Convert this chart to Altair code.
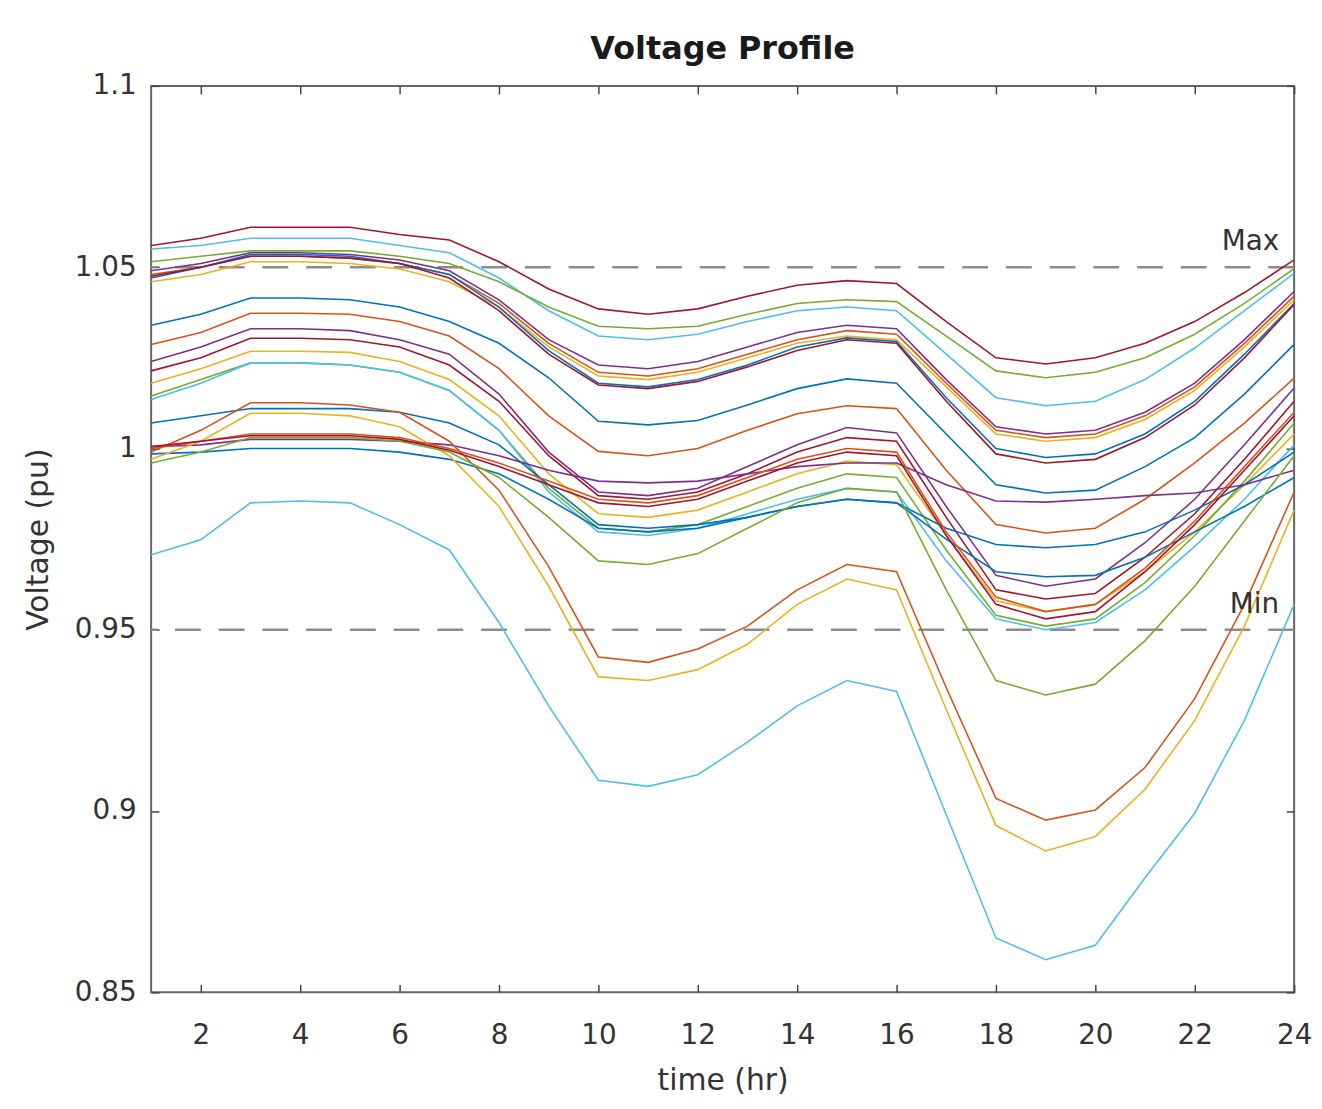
import altair as alt
import pandas as pd

hours = [1, 2, 3, 4, 5, 6, 7, 8, 9, 10, 11, 12, 13, 14, 15, 16, 17, 18, 19, 20, 21, 22, 23, 24]
xticks = [2, 4, 6, 8, 10, 12, 14, 16, 18, 20, 22, 24]
yticks = [0.85, 0.9, 0.95, 1.0, 1.05, 1.1]
limit_values = [1.05, 0.95]
limit_labels = ["Max", "Min"]

v01 = [1.056,1.058,1.061,1.061,1.061,1.059,1.0575,1.0515,1.044,1.0385,1.037,1.0385,1.042,1.045,1.0463,1.0455,1.035,1.025,1.0233,1.025,1.029,1.035,1.043,1.052]
v02 = [1.055,1.056,1.058,1.058,1.058,1.056,1.054,1.047,1.038,1.031,1.030,1.0315,1.035,1.038,1.039,1.038,1.026,1.014,1.0118,1.013,1.019,1.0277,1.038,1.0483]
v03 = [1.0515,1.053,1.0545,1.0545,1.0545,1.053,1.051,1.046,1.039,1.0337,1.033,1.0337,1.037,1.040,1.041,1.0405,1.031,1.0214,1.0195,1.021,1.025,1.0315,1.040,1.0496]
v04 = [1.049,1.051,1.054,1.054,1.0535,1.052,1.049,1.041,1.030,1.023,1.022,1.024,1.028,1.032,1.034,1.033,1.019,1.006,1.004,1.005,1.010,1.018,1.030,1.0433]
v05 = [1.048,1.050,1.053,1.053,1.0525,1.051,1.048,1.040,1.029,1.021,1.020,1.022,1.026,1.030,1.0325,1.0315,1.018,1.005,1.003,1.004,1.009,1.017,1.029,1.042]
v06 = [1.046,1.048,1.0515,1.0515,1.051,1.0495,1.046,1.039,1.028,1.020,1.019,1.021,1.025,1.029,1.031,1.030,1.017,1.004,1.002,1.003,1.008,1.016,1.028,1.041]
v07 = [1.047,1.050,1.0535,1.0535,1.053,1.051,1.048,1.039,1.027,1.018,1.017,1.019,1.023,1.028,1.0305,1.0295,1.014,1.000,0.9975,0.9985,1.004,1.013,1.026,1.040]
v08 = [1.0475,1.050,1.053,1.053,1.0525,1.051,1.047,1.038,1.026,1.0175,1.0165,1.0185,1.0225,1.027,1.030,1.029,1.013,0.9985,0.996,0.997,1.003,1.012,1.025,1.0397]
v09 = [1.034,1.037,1.0415,1.0415,1.041,1.039,1.035,1.029,1.0195,1.0075,1.0065,1.0077,1.012,1.0165,1.0192,1.018,1.004,0.990,0.9877,0.9885,0.995,1.003,1.015,1.0287]
v10 = [1.0287,1.032,1.0373,1.0373,1.037,1.035,1.031,1.022,1.009,0.9992,0.998,1.000,1.005,1.0096,1.0118,1.011,0.994,0.979,0.9767,0.978,0.986,0.996,1.007,1.0194]
v11 = [1.024,1.028,1.033,1.033,1.0325,1.030,1.026,1.015,0.999,0.988,0.987,0.989,0.995,1.001,1.0058,1.0043,0.984,0.965,0.962,0.964,0.974,0.986,1.001,1.0167]
v12 = [1.0214,1.025,1.0304,1.0304,1.030,1.028,1.023,1.013,0.998,0.987,0.986,0.988,0.993,0.999,1.003,1.002,0.981,0.961,0.9585,0.960,0.970,0.982,0.997,1.013]
v13 = [1.018,1.022,1.0268,1.0268,1.0265,1.024,1.019,1.009,0.993,0.982,0.981,0.983,0.988,0.993,0.9965,0.9955,0.976,0.958,0.955,0.957,0.966,0.977,0.990,1.004]
v14 = [1.0145,1.019,1.0236,1.0236,1.023,1.021,1.016,1.005,0.989,0.978,0.977,0.979,0.984,0.989,0.993,0.992,0.972,0.954,0.951,0.953,0.963,0.976,0.991,1.007]
v15 = [1.0135,1.018,1.0236,1.0236,1.023,1.021,1.016,1.005,0.988,0.977,0.976,0.978,0.982,0.986,0.989,0.988,0.969,0.953,0.950,0.952,0.961,0.973,0.986,1.001]
v16 = [1.007,1.009,1.011,1.011,1.011,1.010,1.007,1.001,0.990,0.979,0.978,0.979,0.981,0.984,0.986,0.985,0.978,0.9735,0.9726,0.9735,0.977,0.983,0.990,0.999]
v17 = [1.0005,1.001,1.0025,1.0025,1.0025,1.002,1.001,0.998,0.994,0.991,0.9905,0.991,0.993,0.995,0.996,0.996,0.990,0.9855,0.9852,0.986,0.987,0.9877,0.990,0.994]
v18 = [0.9985,0.999,1.000,1.000,1.000,0.999,0.997,0.993,0.986,0.978,0.977,0.978,0.981,0.984,0.986,0.985,0.975,0.966,0.9646,0.965,0.970,0.977,0.984,0.992]
v19 = [0.999,1.005,1.0126,1.0126,1.012,1.010,1.002,0.9885,0.9674,0.9425,0.941,0.9447,0.951,0.961,0.968,0.966,0.934,0.9035,0.8975,0.9003,0.912,0.931,0.957,0.988]
v20 = [0.997,1.002,1.0097,1.0097,1.009,1.006,0.998,0.984,0.962,0.937,0.936,0.939,0.946,0.957,0.964,0.961,0.928,0.896,0.889,0.893,0.906,0.925,0.951,0.983]
v21 = [0.996,0.999,1.003,1.003,1.003,1.002,0.999,0.992,0.981,0.969,0.968,0.971,0.978,0.985,0.989,0.988,0.961,0.936,0.932,0.935,0.947,0.962,0.980,0.998]
v22 = [1.000,1.002,1.004,1.004,1.004,1.003,1.000,0.996,0.991,0.986,0.985,0.987,0.992,0.997,1.000,0.999,0.977,0.959,0.955,0.957,0.967,0.980,0.995,1.010]
v23 = [1.0005,1.002,1.0035,1.0035,1.0035,1.0025,0.9995,0.995,0.990,0.985,0.984,0.986,0.991,0.996,0.999,0.998,0.976,0.957,0.953,0.955,0.966,0.979,0.994,1.009]
v24 = [0.9707,0.9748,0.985,0.9855,0.985,0.979,0.972,0.952,0.929,0.9085,0.9068,0.910,0.919,0.929,0.936,0.933,0.899,0.865,0.859,0.863,0.8816,0.8994,0.925,0.957]

series_values = [v01, v02, v03, v04, v05, v06, v07, v08, v09, v10, v11, v12,
                 v13, v14, v15, v16, v17, v18, v19, v20, v21, v22, v23, v24]
series_colors = ["#A2142F", "#4DBEEE", "#77AC30", "#7E2F8E", "#D95319", "#EDB120",
                 "#0072BD", "#A2142F", "#0072BD", "#D95319", "#7E2F8E", "#A2142F",
                 "#EDB120", "#77AC30", "#4DBEEE", "#0072BD", "#7E2F8E", "#0072BD",
                 "#D95319", "#EDB120", "#77AC30", "#D95319", "#A2142F", "#4DBEEE"]
series_names = [f"bus{i+1:02d}" for i in range(len(series_values))]

rows = []
for name, vals in zip(series_names, series_values):
    for h, v in zip(hours, vals):
        rows.append({"series": name, "hour": h, "v": v})
df = pd.DataFrame(rows)
limits = pd.DataFrame({"val": limit_values, "label": limit_labels})

xscale = alt.Scale(domain=[1, 24], nice=False, zero=False)
yscale = alt.Scale(domain=[0.85, 1.1], nice=False, zero=False)

TXT = "#333333"

x_bottom = alt.Axis(values=xticks, orient="bottom", offset=-8, tickSize=8, tickWidth=1.5,
                    tickColor="#444444", domain=False, grid=False, labelFontSize=28,
                    labelColor=TXT, labelPadding=29, labelFlush=False,
                    title="time (hr)", titleFontSize=30, titleFontWeight="normal",
                    titleColor=TXT, titlePadding=17)
y_left = alt.Axis(values=yticks, orient="left", offset=-8, tickSize=8, tickWidth=1.5,
                  tickColor="#444444", domain=False, grid=False, labelFontSize=28,
                  labelColor=TXT, labelPadding=15, labelExpr="format(datum.value, '~g')",
                  title="Voltage (pu)", titleFontSize=30, titleFontWeight="normal",
                  titleColor=TXT, titlePadding=21)
x_top = alt.Axis(values=xticks, orient="top", offset=-8, tickSize=8, tickWidth=1.5,
                 tickColor="#444444", domain=False, grid=False, labels=False, title="")
y_right = alt.Axis(values=yticks, orient="right", offset=-8, tickSize=8, tickWidth=1.5,
                   tickColor="#444444", domain=False, grid=False, labels=False, title="")

rules = alt.Chart(limits).mark_rule(color="#8c8c8c", strokeWidth=2.5, strokeDash=[26, 18]).encode(
    y=alt.Y("val:Q", scale=yscale, axis=None)
)

lines = alt.Chart(df).mark_line(strokeWidth=1.6).encode(
    x=alt.X("hour:Q", scale=xscale, axis=x_bottom),
    y=alt.Y("v:Q", scale=yscale, axis=y_left),
    color=alt.Color("series:N", scale=alt.Scale(domain=series_names, range=series_colors), legend=None),
    detail="series:N",
)

frame_axes = alt.Chart(df).mark_line(opacity=0).encode(
    x=alt.X("hour:Q", scale=xscale, axis=x_top),
    y=alt.Y("v:Q", scale=yscale, axis=y_right),
    detail="series:N",
)

labels = alt.Chart(limits).mark_text(align="right", baseline="alphabetic", dx=-15, dy=-17,
                                     fontSize=28, color=TXT).encode(
    x=alt.X(datum=24, scale=xscale, axis=None),
    y=alt.Y("val:Q", scale=yscale, axis=None),
    text="label:N",
)

chart = alt.layer(rules, lines, frame_axes, labels).resolve_axis(
    x="independent", y="independent"
).properties(
    width=1150,
    height=912,
    title=alt.TitleParams(text="Voltage Profile", fontSize=32, fontWeight="bold",
                          color="#1a1a1a", offset=6, anchor="middle"),
    autosize=alt.AutoSizeParams(type="none"),
    padding={"left": 144, "top": 75, "right": 20, "bottom": 112},
).configure(font="DejaVu Sans").configure_view(stroke="#666666", strokeWidth=2)

chart.save("out.html", embed_options={"renderer": "svg", "actions": False})
